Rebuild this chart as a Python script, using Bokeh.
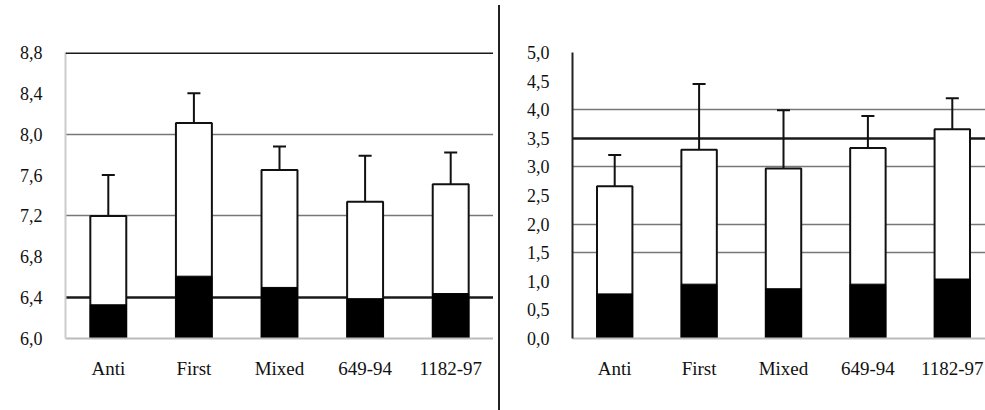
from bokeh.plotting import figure
from bokeh.models import (ColumnDataSource, FactorRange, Range1d, FixedTicker,
                          CustomJSTickFormatter, Whisker, TeeHead, Grid, Div, Span)
from bokeh.layouts import row
from bokeh.embed import file_html
from bokeh.resources import INLINE

categories = ["Anti", "First", "Mixed", "649-94", "1182-97"]

left_total = [7.20, 8.11, 7.65, 7.34, 7.51]
left_base = [6.33, 6.61, 6.50, 6.39, 6.44]
left_err_low = [6.80, 7.80, 7.41, 6.87, 7.22]
left_err_high = [7.60, 8.40, 7.88, 7.79, 7.82]
left_ticks = [6.0, 6.4, 6.8, 7.2, 7.6, 8.0, 8.4, 8.8]

right_total = [2.66, 3.30, 2.97, 3.33, 3.66]
right_base = [0.78, 0.95, 0.87, 0.95, 1.04]
right_err_low = [2.05, 2.10, 2.01, 2.74, 3.06]
right_err_high = [3.21, 4.45, 3.99, 3.89, 4.20]
right_ticks = [0.0, 0.5, 1.0, 1.5, 2.0, 2.5, 3.0, 3.5, 4.0, 4.5, 5.0]

FONT = "Liberation Serif"
fmt_code = "return tick.toFixed(1).replace('.', ',');"
H = 405


def panel(width, ymin, ymax, ticks, total, base, lo, hi,
          dark_grid, light_grid, top_line, border_left, border_top, frame_h, axis_color):
    src = ColumnDataSource(dict(cat=categories, total=total, base=base, lo=lo, hi=hi))
    p = figure(width=width, height=H, x_range=FactorRange(factors=categories),
               y_range=Range1d(ymin, ymax), output_backend="svg", toolbar_location=None,
               min_border_left=border_left, min_border_right=0,
               min_border_top=border_top, min_border_bottom=H - border_top - frame_h)
    p.outline_line_color = None
    p.background_fill_color = "white"
    p.border_fill_color = "white"
    p.xgrid.grid_line_color = None
    p.ygrid.ticker = FixedTicker(ticks=dark_grid)
    p.ygrid.grid_line_color = "#1a1a1a"
    p.ygrid.grid_line_width = 2.5
    g2 = Grid(dimension=1, ticker=FixedTicker(ticks=light_grid),
              grid_line_color="#777777", grid_line_width=1.5)
    p.add_layout(g2)
    if top_line:
        p.add_layout(Span(location=ymax, dimension="width", line_color="#1a1a1a",
                          line_width=3))

    p.vbar(x="cat", top="total", bottom=ymin, width=0.42, source=src,
           fill_color="white", line_color="#111111", line_width=2)
    p.vbar(x="cat", top="base", bottom=ymin, width=0.42, source=src,
           fill_color="black", line_color="black", line_width=1)
    w = Whisker(source=src, base="cat", lower="lo", upper="hi",
                line_color="#111111", line_width=2,
                lower_head=TeeHead(size=13, line_color="#111111", line_width=2),
                upper_head=TeeHead(size=13, line_color="#111111", line_width=2))
    p.add_layout(w)

    p.yaxis.ticker = FixedTicker(ticks=ticks)
    p.yaxis.formatter = CustomJSTickFormatter(code=fmt_code)
    p.yaxis.major_label_text_font = FONT
    p.yaxis.major_label_text_font_size = "18px"
    p.yaxis.major_label_text_color = "#111111"
    p.yaxis.major_tick_line_color = None
    p.yaxis.minor_tick_line_color = None
    p.yaxis.axis_line_color = axis_color
    p.yaxis.axis_line_width = 2
    p.yaxis.major_label_standoff = 17

    p.xaxis.major_label_text_font = FONT
    p.xaxis.major_label_text_font_size = "19px"
    p.xaxis.major_label_text_color = "#111111"
    p.xaxis.major_tick_line_color = None
    p.xaxis.axis_line_color = "#bbbbbb"
    p.xaxis.axis_line_width = 2
    p.xaxis.major_label_standoff = 13
    return p


left = panel(493, left_ticks[0], left_ticks[-1], left_ticks, left_total, left_base,
             left_err_low, left_err_high, [6.4], [7.2, 8.0], True,
             65, 52, 286, "#cccccc")
right = panel(489, right_ticks[0], right_ticks[-1], right_ticks, right_total, right_base,
              right_err_low, right_err_high, [3.5], [1.5, 2.0, 3.0, 4.0], False,
              67, 50, 288, "#222222")

sep = Div(text="", width=2, height=H, styles={"background-color": "#222222"})

layout = row(left, sep, right)
open("out.html", "w").write(file_html(layout, INLINE))
